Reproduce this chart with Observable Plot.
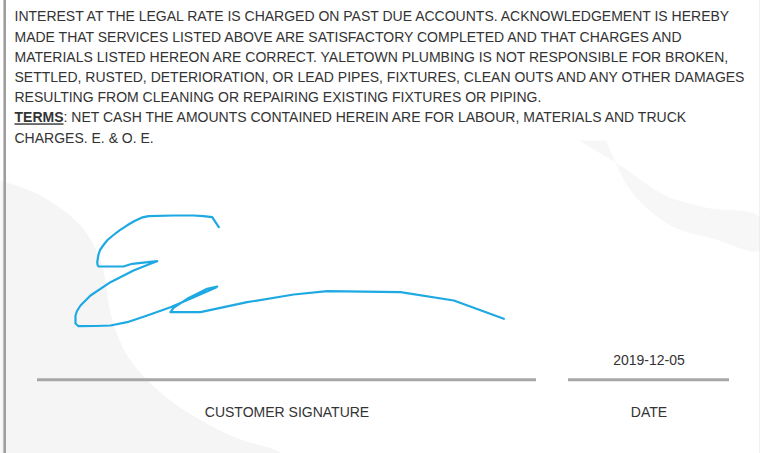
<!DOCTYPE html>
<html>
<head>
<meta charset="utf-8">
<script src="https://cdn.jsdelivr.net/npm/d3@7"></script>
<script src="https://cdn.jsdelivr.net/npm/@observablehq/plot@0.6"></script>
<style>
  html, body { margin: 0; padding: 0; background: #fff; overflow: hidden; }
  #chart svg { display: block; }
</style>
</head>
<body>
<div id="chart"></div>
<script>
// ---- Data ----
const TERMS_LINES = [
  "INTEREST AT THE LEGAL RATE IS CHARGED ON PAST DUE ACCOUNTS. ACKNOWLEDGEMENT IS HEREBY",
  "MADE THAT SERVICES LISTED ABOVE ARE SATISFACTORY COMPLETED AND THAT CHARGES AND",
  "MATERIALS LISTED HEREON ARE CORRECT. YALETOWN PLUMBING IS NOT RESPONSIBLE FOR BROKEN,",
  "SETTLED, RUSTED, DETERIORATION, OR LEAD PIPES, FIXTURES, CLEAN OUTS AND ANY OTHER DAMAGES",
  "RESULTING FROM CLEANING OR REPAIRING EXISTING FIXTURES OR PIPING.",
  "TERMS: NET CASH THE AMOUNTS CONTAINED HEREIN ARE FOR LABOUR, MATERIALS AND TRUCK",
  "CHARGES. E. & O. E."
];
const TERMS_KEYWORD = "TERMS";

const FIELD_LABELS = ["CUSTOMER SIGNATURE", "DATE"];
const FIELD_VALUES = ["", "2019-12-05"];

// signature stroke (pen points, page pixels)
const SIG_X = [218.3,211.7,203,193,173,148,141,134,126.7,119,113,107,103,99.5,98,96.7,97.2,98,110,123,131.7,156.7,150,133,110,90,80,76.5,75,75,78,95,110,126.7,146.7,170,193.3,215,216.7,206.7,186.7,173,170,200,246.7,293.3,326.7,400,453.3,503.3];
const SIG_Y = [226.7,216.7,215.7,215,215,215.7,217.2,220.5,224.8,229.8,234.5,239.5,244.5,249.5,254,261.7,264.8,266,266,266,263.3,260.7,263.3,270,281.7,295,305,310.5,315,323,325.7,325.5,325,321.7,315,306.7,296.7,287.3,286,288.3,298.3,307.3,311.7,311.7,301.7,294,290.7,291.7,300,318.3];

// faint background watermark outlines
const WM_A_X = [0, 40, 80, 100, 112, 130, 170, 230, 280, 0];
const WM_A_Y = [180, 195, 225, 260, 320, 360, 400, 435, 453, 453];
const WM_B_X = [578, 620, 665, 705, 760, 760, 712, 670, 630, 606];
const WM_B_Y = [140, 165, 195, 207, 217, 250, 238, 225, 190, 140];

// ---- Layout ----
const W = 760, H = 453;
const FONT = "'Liberation Sans', Arial, Helvetica, sans-serif";
const TEXT_X = 14, TEXT_TOP = 16.5, LINE_STEP = 20.17;
const FIELD_X1 = [37, 568], FIELD_X2 = [536, 729];
const FIELD_RULE_Y = 379.3, FIELD_VALUE_Y = 360.3, FIELD_LABEL_Y = 412;

const sig = SIG_X.map((x, i) => ({x, y: SIG_Y[i]}));
const wmA = WM_A_X.map((x, i) => ({x, y: WM_A_Y[i]}));
const wmB = WM_B_X.map((x, i) => ({x, y: WM_B_Y[i]}));
const fields = FIELD_LABELS.map((label, i) => ({
  label, value: FIELD_VALUES[i], x1: FIELD_X1[i], x2: FIELD_X2[i], cx: (FIELD_X1[i] + FIELD_X2[i]) / 2
}));

const chart = Plot.plot({
  width: W,
  height: H,
  margin: 0,
  x: {domain: [0, W], axis: null},
  y: {domain: [0, H], reverse: true, axis: null},
  style: {background: "#fff", fontFamily: FONT, overflow: "hidden"},
  marks: [
    Plot.line(wmA, {x: "x", y: "y", fill: "#f5f5f5", stroke: "none", curve: "catmull-rom"}),
    Plot.line(wmB, {x: "x", y: "y", fill: "#f7f7f7", stroke: "none", curve: "catmull-rom"}),
    // page borders
    Plot.ruleX([4.2], {y1: 0, y2: H, stroke: "#9e9e9e", strokeWidth: 2.6}),
    Plot.ruleX([759.5], {y1: 0, y2: H, stroke: "#e2e2e2", strokeWidth: 1}),
    // terms paragraph
    Plot.text(TERMS_LINES, {
      x: () => TEXT_X,
      y: (d, i) => TEXT_TOP + i * LINE_STEP,
      text: d => d,
      textAnchor: "start",
      lineAnchor: "middle",
      fontSize: 14,
      fill: "#333"
    }),
    // signature
    Plot.line(sig, {x: "x", y: "y", stroke: "#1ea9e2", strokeWidth: 2.2, curve: "linear", strokeLinejoin: "round", strokeLinecap: "round"}),
    // fields
    Plot.ruleY(fields, {y: () => FIELD_RULE_Y, x1: "x1", x2: "x2", stroke: "#a7a7a9", strokeWidth: 3}),
    Plot.text(fields, {x: "cx", y: () => FIELD_VALUE_Y, text: "value", fontSize: 14, fill: "#333", lineAnchor: "middle"}),
    Plot.text(fields, {x: "cx", y: () => FIELD_LABEL_Y, text: "label", fontSize: 14, fill: "#333", lineAnchor: "middle"})
  ]
});

// style the TERMS keyword (bold + underline) inside its line
const NS = "http://www.w3.org/2000/svg";
chart.querySelectorAll("text").forEach(t => {
  const s = t.textContent;
  if (s.startsWith(TERMS_KEYWORD + ":")) {
    while (t.firstChild) t.removeChild(t.firstChild);
    const k = document.createElementNS(NS, "tspan");
    k.setAttribute("font-weight", "bold");
    k.setAttribute("text-decoration", "underline");
    k.textContent = TERMS_KEYWORD;
    t.appendChild(k);
    t.appendChild(document.createTextNode(s.slice(TERMS_KEYWORD.length)));
  }
});

document.getElementById("chart").appendChild(chart);
</script>
</body>
</html>
